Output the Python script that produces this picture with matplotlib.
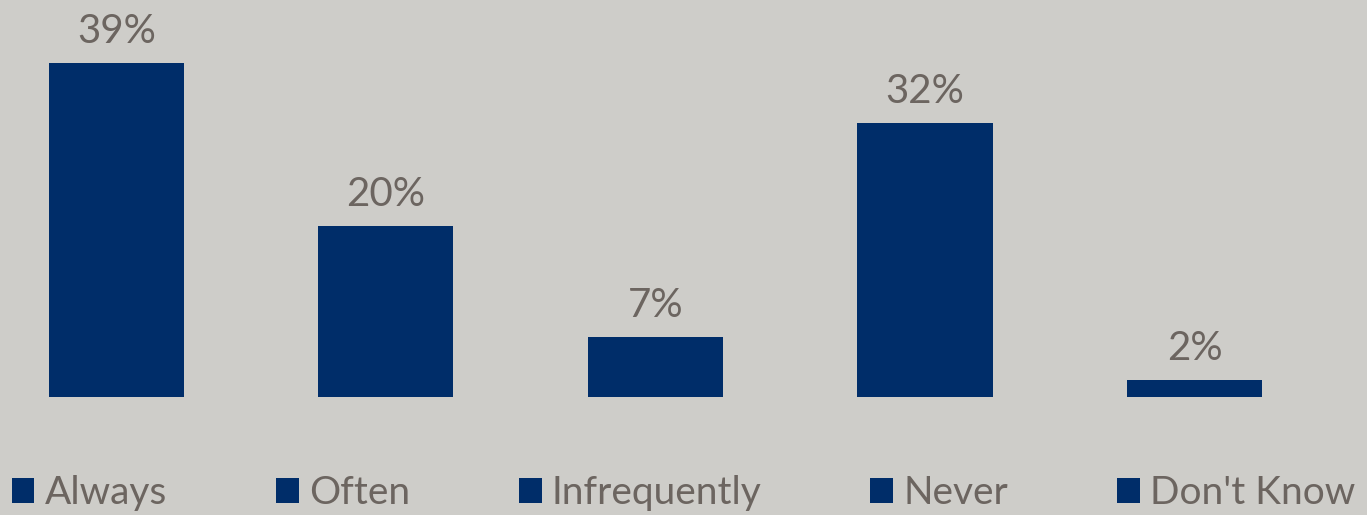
import matplotlib.pyplot as plt
from matplotlib.patches import Patch

categories = ["Always", "Often", "Infrequently", "Never", "Don't Know"]
shares = [39, 20, 7, 32, 2]
labels = ["39%", "20%", "7%", "32%", "2%"]

bg = "#cecdc9"
navy = "#002d69"
grey_txt = "#6c6560"

plt.rcParams['font.family'] = ['Lato', 'DejaVu Sans']

fig = plt.figure(figsize=(13.67, 5.15), dpi=100, facecolor=bg)
ax = fig.add_axes([0, 118 / 515, 1, 397 / 515])
ax.set_facecolor(bg)

x = list(range(len(categories)))
bars = ax.bar(x, shares, width=0.501, color=navy)
for xi, v, lab in zip(x, shares, labels):
    ax.annotate(lab, (xi, v), xytext=(0, 14.5), textcoords="offset points",
                ha="center", va="baseline", fontsize=29, color=grey_txt)

ax.set_xlim(-0.432, 4.640)
ax.set_ylim(0, 46.4)
ax.axis("off")

handles = [Patch(facecolor=navy, edgecolor="none") for _ in categories]
fig.legend(handles, categories, loc="center", bbox_to_anchor=(0.5, 0.042),
           ncol=5, frameon=False, fontsize=28, labelcolor=grey_txt,
           handlelength=0.59, handleheight=0.59, handletextpad=0.26,
           columnspacing=2.8, borderpad=0, borderaxespad=0)

fig.savefig("out.png", dpi=100, facecolor=bg)
